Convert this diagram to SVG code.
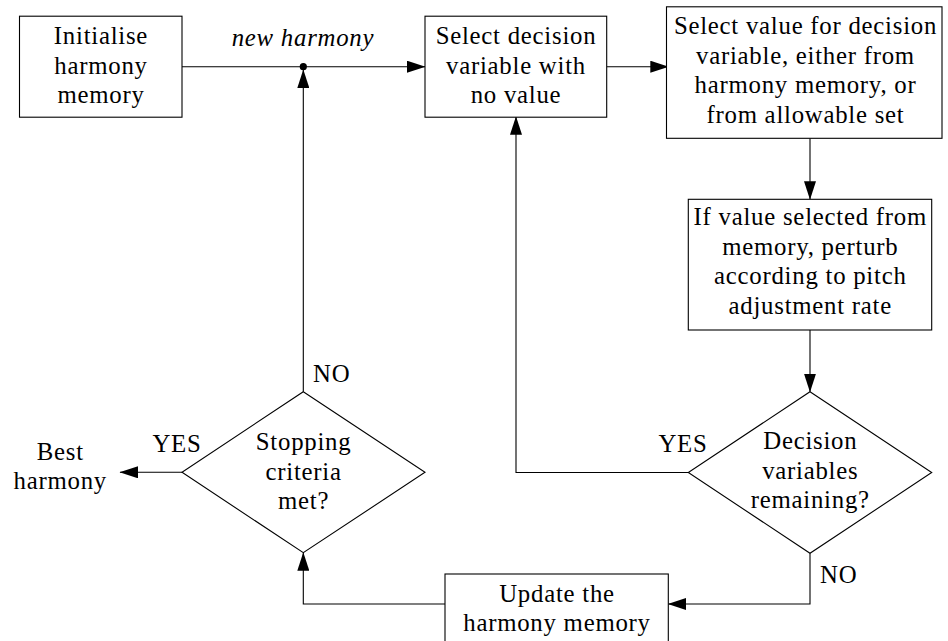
<svg xmlns="http://www.w3.org/2000/svg" width="948" height="641" viewBox="0 0 948 641">
  <defs>
    <marker id="arrow" markerUnits="userSpaceOnUse" markerWidth="19" markerHeight="12" refX="18" refY="6" orient="auto">
      <path d="M0,0 L18.5,6 L0,12 z" fill="#000"/>
    </marker>
  </defs>
  <style>
    .box { fill: #fff; stroke: #000; stroke-width: 1.1; }
    .edge { fill: none; stroke: #000; stroke-width: 1.1; marker-end: url(#arrow); }
    text { font-family: 'Liberation Serif', 'DejaVu Serif', serif; font-size: 24.8px; fill: #000; letter-spacing: 0.75px; }
    .c { text-anchor: middle; }
    .it { font-style: italic; }
  </style>
  <rect width="948" height="641" fill="#fff"/>

  <!-- connectors -->
  <g id="connectors">
    <path class="edge" d="M182,66.7 H425"/>
    <path class="edge" d="M303.3,391.7 V70"/>
    <path class="edge" d="M606.7,66.7 H668.3"/>
    <path class="edge" d="M810,138.3 V199.3"/>
    <path class="edge" d="M810,330 V391.7"/>
    <path class="edge" d="M688.3,472.5 H516 V116.7"/>
    <path class="edge" d="M810,553.3 V604 H668.3"/>
    <path class="edge" d="M445,604 H303.3 V552.7"/>
    <path class="edge" d="M182,472.3 H120"/>
    <circle cx="303.3" cy="66.7" r="3.6" fill="#000"/>
    <text class="c it" x="303" y="46">new harmony</text>
    <text class="c" x="177" y="451.5">YES</text>
    <text x="313" y="381.5">NO</text>
    <text class="c" x="683" y="451.5">YES</text>
    <text x="820" y="583">NO</text>
  </g>

  <!-- process steps -->
  <g id="init">
    <rect class="box" x="19.5" y="16.2" width="162.5" height="101"/>
    <text class="c" x="101" y="44">Initialise</text>
    <text class="c" x="101" y="73.5">harmony</text>
    <text class="c" x="101" y="103">memory</text>
  </g>

  <g id="select-variable">
    <rect class="box" x="425" y="16.2" width="181.7" height="101"/>
    <text class="c" x="516" y="44">Select decision</text>
    <text class="c" x="516" y="73.5">variable with</text>
    <text class="c" x="516" y="103">no value</text>
  </g>

  <g id="select-value">
    <rect class="box" x="666.5" y="6.8" width="275.5" height="131.5"/>
    <text class="c" x="805.5" y="34">Select value for decision</text>
    <text class="c" x="805.5" y="63.5">variable, either from</text>
    <text class="c" x="805.5" y="93">harmony memory, or</text>
    <text class="c" x="805.5" y="122.5">from allowable set</text>
  </g>

  <g id="pitch-adjust">
    <rect class="box" x="688.3" y="199.3" width="243.4" height="130.7"/>
    <text class="c" x="810.3" y="225">If value selected from</text>
    <text class="c" x="810.3" y="254.5">memory, perturb</text>
    <text class="c" x="810.3" y="284">according to pitch</text>
    <text class="c" x="810.3" y="313.5">adjustment rate</text>
  </g>

  <g id="variables-remaining">
    <polygon class="box" points="810,391.7 931.7,472.5 810,553.3 688.3,472.5"/>
    <text class="c" x="810.3" y="449">Decision</text>
    <text class="c" x="810.3" y="478.5">variables</text>
    <text class="c" x="810.3" y="508">remaining?</text>
  </g>

  <g id="update-memory">
    <rect class="box" x="445" y="574" width="223.3" height="101"/>
    <text class="c" x="557" y="602">Update the</text>
    <text class="c" x="557" y="631">harmony memory</text>
  </g>

  <g id="stopping-criteria">
    <polygon class="box" points="303.3,391.7 425,472.3 303.3,552.7 182,472.3"/>
    <text class="c" x="303.6" y="450">Stopping</text>
    <text class="c" x="303.6" y="479.5">criteria</text>
    <text class="c" x="303.6" y="509">met?</text>
  </g>

  <g id="best-harmony">
    <text class="c" x="60.3" y="459.5">Best</text>
    <text class="c" x="60.3" y="488.5">harmony</text>
  </g>
</svg>
